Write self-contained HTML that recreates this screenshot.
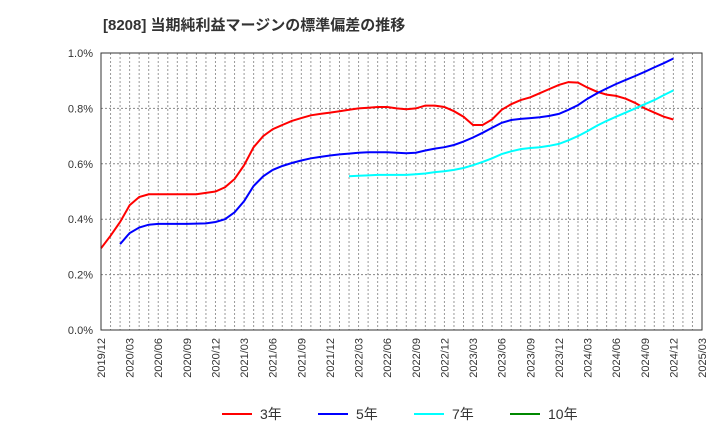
<!DOCTYPE html>
<html><head><meta charset="utf-8"><style>
body{margin:0;background:#fff;}
svg{display:block;font-family:"Liberation Sans","Noto Sans CJK JP",sans-serif;}
</style></head><body>
<svg id="c" width="720" height="440">
<text x="103" y="30" font-size="15" font-weight="bold" fill="#333">[8208]  当期純利益マージンの標準偏差の推移</text>
</svg>
<script>
const xLabels=["2019/12","2020/03","2020/06","2020/09","2020/12","2021/03","2021/06","2021/09","2021/12","2022/03","2022/06","2022/09","2022/12","2023/03","2023/06","2023/09","2023/12","2024/03","2024/06","2024/09","2024/12","2025/03"];
const yTicks=[0,0.2,0.4,0.6,0.8,1.0];
const red=[0.295,0.34,0.39,0.45,0.48,0.49,0.49,0.49,0.49,0.49,0.49,0.495,0.50,0.515,0.545,0.595,0.66,0.70,0.725,0.74,0.755,0.765,0.775,0.78,0.785,0.79,0.795,0.80,0.802,0.805,0.805,0.80,0.797,0.80,0.81,0.81,0.805,0.79,0.77,0.74,0.74,0.76,0.795,0.815,0.83,0.84,0.855,0.87,0.885,0.895,0.893,0.875,0.86,0.85,0.845,0.835,0.82,0.80,0.785,0.77,0.76];
const redStart=0;
const blue=[0.31,0.35,0.37,0.38,0.383,0.383,0.383,0.383,0.384,0.385,0.39,0.40,0.425,0.465,0.52,0.555,0.578,0.592,0.603,0.612,0.62,0.625,0.63,0.634,0.637,0.64,0.642,0.642,0.642,0.64,0.638,0.64,0.648,0.655,0.66,0.668,0.68,0.695,0.712,0.73,0.748,0.758,0.762,0.765,0.768,0.773,0.78,0.795,0.812,0.835,0.855,0.872,0.888,0.903,0.917,0.932,0.948,0.963,0.98];
const blueStart=2;
const cyan=[0.555,0.557,0.558,0.56,0.56,0.56,0.56,0.562,0.565,0.57,0.573,0.578,0.585,0.595,0.607,0.62,0.635,0.645,0.653,0.657,0.66,0.665,0.672,0.685,0.70,0.718,0.738,0.755,0.77,0.785,0.80,0.815,0.83,0.848,0.865];
const cyanStart=26;
const L=101,R=702,T=53,B=330,M=63;
const X=m=>L+(R-L)*m/M, Y=v=>B-(B-T)*v/1.0;
const svg=document.getElementById('c'),NS="http://www.w3.org/2000/svg";
function mk(t,a,p){const e=document.createElementNS(NS,t);for(const k in a)e.setAttribute(k,a[k]);(p||svg).appendChild(e);return e;}
const bg=mk('rect',{x:L,y:T,width:R-L,height:B-T,fill:'#fff'});


for(let m=1;m<M;m++){const g=mk('line',{x1:X(m),x2:X(m),y1:T,y2:B,stroke:'#999','stroke-dasharray':'2,2','stroke-width':1});

}
yTicks.forEach(v=>{if(v>0&&v<1){const g=mk('line',{x1:L,x2:R,y1:Y(v),y2:Y(v),stroke:'#888','stroke-dasharray':'2,2'});

}
const t=mk('text',{x:L-8,y:Y(v)+4,'text-anchor':'end','font-size':11,fill:'#333'});t.textContent=v.toFixed(1)+'%';

});
xLabels.forEach((s,i)=>{const x=X(i*3);const t=mk('text',{transform:`translate(${x+4},${B+8}) rotate(-90)`,'text-anchor':'end','font-size':11,fill:'#333'});t.textContent=s;

});
function line(arr,st,col,name){const p=arr.map((v,i)=>X(st+i).toFixed(1)+','+Y(v).toFixed(1)).join(' ');
const e=mk('polyline',{points:p,fill:'none',stroke:col,'stroke-width':2});

}
line(red,redStart,'#f00','series-3y');
line(blue,blueStart,'#00f','series-5y');
line(cyan,cyanStart,'#0ff','series-7y');
const fr=mk('rect',{x:L,y:T,width:R-L,height:B-T,fill:'none',stroke:'#333','stroke-width':1});


const leg=[["3年","#f00",222],["5年","#00f",318],["7年","#0ff",414],["10年","#080",510]];
leg.forEach(l=>{const g=mk('g',{});


mk('line',{x1:l[2],x2:l[2]+30,y1:414,y2:414,stroke:l[1],'stroke-width':2},g);
const t=mk('text',{x:l[2]+38,y:419,'font-size':14,fill:'#333'},g);t.textContent=l[0];});
</script>
</body></html>
